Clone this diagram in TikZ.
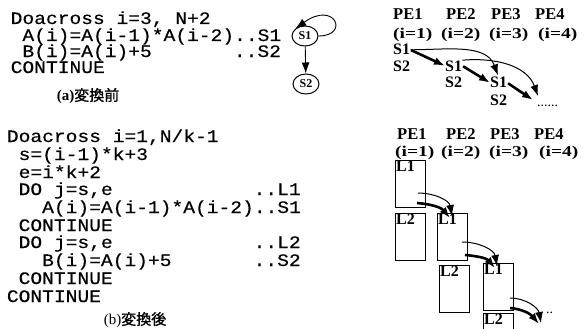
\documentclass[tikz,border=0pt]{standalone}
\usepackage{fontspec}
\setmainfont{Liberation Serif}
\newfontfamily\codefont{Liberation Mono}[FakeStretch=1.12,FakeBold=0.4]
\newfontfamily\cjkfont{Noto Sans CJK JP}[FakeBold=1.2]
\newfontfamily\widefont{Liberation Serif}[FakeStretch=1.3]
\usetikzlibrary{arrows.meta,calc,shapes.geometric}
\tikzset{
  code/.style={font=\codefont\fontsize{17.5}{17.5}\selectfont, anchor=base west, inner sep=0pt},
  capt/.style={font=\cjkfont\fontsize{15}{15}\selectfont, inner sep=0pt},
  pe/.style={font=\bfseries\fontsize{16.5}{16.5}\selectfont, anchor=base west, inner sep=0pt},
  pi/.style={font=\widefont\bfseries\fontsize{15}{15}\selectfont, anchor=base west, inner sep=0pt},
  sl/.style={font=\bfseries\fontsize{16}{16}\selectfont, anchor=base west, inner sep=0pt},
  gnode/.style={ellipse, draw, line width=1pt, minimum width=26pt, minimum height=20pt, inner sep=0pt, font=\bfseries\fontsize{12}{12}\selectfont},
  stepbox/.style={draw, line width=0.7pt, minimum width=30pt, minimum height=47pt, anchor=north west, inner sep=0pt},
  bl/.style={anchor=north west, inner sep=1pt, font=\bfseries\fontsize{16}{16}\selectfont},
  head/.style={-{Latex[length=11pt,width=8pt]}},
  thinarr/.style={head, line width=1pt},
  thickarr/.style={head, line width=2.6pt},
}
\begin{document}
\begin{tikzpicture}[x=1pt,y=-1pt]
\useasboundingbox (0,0) rectangle (586,329);
% ---------- (a) code ----------
\node[code] (a1) at (10.5,24) {Doacross i=3, N+2};
\node[code] (a2) at (22.25,41) {A(i)=A(i-1)*A(i-2)..S1};
\node[code] (a3) at (22.25,57) {B(i)=A(i)+5};
\node[code] (a3b) at (233.75,57) {..S2};
\node[code] (a4) at (10.5,73) {CONTINUE};
\node[capt] (capa) at (88,96) {{\rmfamily\bfseries (a)}変換前};
% graph
\node[gnode] (s1) at (305,36) {S1};
\node[gnode] (s2) at (306,84) {S2};
\draw[head, line width=0.9pt] (s1) -- (s2);
\draw[head, line width=0.9pt] (s1.east) .. controls (350,36) and (335,0) .. (s1.north west);
% ---------- (b) code ----------
\node[code] (b1) at (6.7,142) {Doacross i=1,N/k-1};
\node[code] (b2) at (18.45,160) {s=(i-1)*k+3};
\node[code] (b3) at (18.45,178) {e=i*k+2};
\node[code] (b4) at (18.45,195) {DO j=s,e};
\node[code] (b4b) at (253.45,195) {..L1};
\node[code] (b5) at (41.95,213) {A(i)=A(i-1)*A(i-2)..S1};
\node[code] (b6) at (18.45,231) {CONTINUE};
\node[code] (b7) at (18.45,248) {DO j=s,e};
\node[code] (b7b) at (253.45,248) {..L2};
\node[code] (b8) at (41.95,266) {B(i)=A(i)+5};
\node[code] (b8b) at (253.45,266) {..S2};
\node[code] (b9) at (18.45,284) {CONTINUE};
\node[code] (b10) at (6.7,302) {CONTINUE};
\node[capt] (capb) at (135,320) {{\rmfamily (b)}変換後};
% ---------- top right ----------
\node[pe] (p1) at (393,20) {PE1};
\node[pe] (p2) at (446,20) {PE2};
\node[pe] (p3) at (491,20) {PE3};
\node[pe] (p4) at (535,20) {PE4};
\node[pi] (i1) at (393,38) {(i=1)};
\node[pi] (i2) at (441,38) {(i=2)};
\node[pi] (i3) at (489,38) {(i=3)};
\node[pi] (i4) at (538,38) {(i=4)};
\node[sl] (t11) at (393,55) {S1};
\node[sl] (t12) at (393,71) {S2};
\node[sl] (t21) at (445,71) {S1};
\node[sl] (t22) at (445,88) {S2};
\node[sl] (t31) at (490,88) {S1};
\node[sl] (t32) at (490,105) {S2};
\node[sl, font=\fontsize{14}{14}\selectfont] (tdots) at (537,106) {......};
\coordinate (e4) at (533,100);
\coordinate (e4b) at (538,96);
\draw[thinarr, shorten >=2pt] (t11.east) to[out=0,in=110] (t31.north);
\draw[thinarr] (t21.north east) to[out=5,in=110] (e4b);
\draw[thickarr, shorten <=1pt] (t11.east) -- (t21.west);
\draw[thickarr, shorten <=1pt] (t21.east) -- (t31.west);
\draw[thickarr, shorten <=1pt] (t31.east) -- (e4);
% ---------- bottom right ----------
\node[pe] (q1) at (397,139) {PE1};
\node[pe] (q2) at (446,139) {PE2};
\node[pe] (q3) at (490,139) {PE3};
\node[pe] (q4) at (534,139) {PE4};
\node[pi] (j1) at (395,156) {(i=1)};
\node[pi] (j2) at (441,156) {(i=2)};
\node[pi] (j3) at (489,156) {(i=3)};
\node[pi] (j4) at (539,156) {(i=4)};
\node[stepbox, label={[bl]north west:L1}] (x1a) at (395,160) {};
\node[stepbox, label={[bl]north west:L2}] (x1b) at (395,213) {};
\node[stepbox, label={[bl]north west:L1}] (x2a) at (437,213) {};
\node[stepbox, label={[bl]north west:L2}] (x2b) at (439,265) {};
\node[stepbox, label={[bl]north west:L1}] (x3a) at (483,263) {};
\node[stepbox, label={[bl]north west:L2}] (x3b) at (483,313) {};
\coordinate (c1t) at ($(x1a.north west)+(23,33)$);
\coordinate (c1k) at ($(x1a.north west)+(22,43)$);
\coordinate (c2t) at ($(x2a.north west)+(25,29)$);
\coordinate (c2k) at ($(x2a.north west)+(28,42)$);
\coordinate (c3t) at ($(x3a.north west)+(27,35)$);
\coordinate (c3k) at ($(x3a.north west)+(27,45)$);
\coordinate (e3t) at (541,323);
\coordinate (e3k) at (539,324);
\draw[thinarr] (c1t) to[out=0,in=100] ($(x2a.north west)+(15,3)$);
\draw[thickarr] (c1k) to[out=-5,in=130] ($(x2a.north west)+(13,5)$);
\draw[thinarr] (c2t) to[out=0,in=100] ($(x3a.north west)+(14,3)$);
\draw[thickarr] (c2k) to[out=-5,in=130] ($(x3a.north west)+(12,5)$);
\draw[thinarr] (c3t) to[out=0,in=100] (e3t);
\draw[thickarr] (c3k) to[out=-5,in=130] (e3k);
\node[sl, font=\fontsize{14}{14}\selectfont] (bdots) at (546,313) {..};
\end{tikzpicture}
\end{document}
